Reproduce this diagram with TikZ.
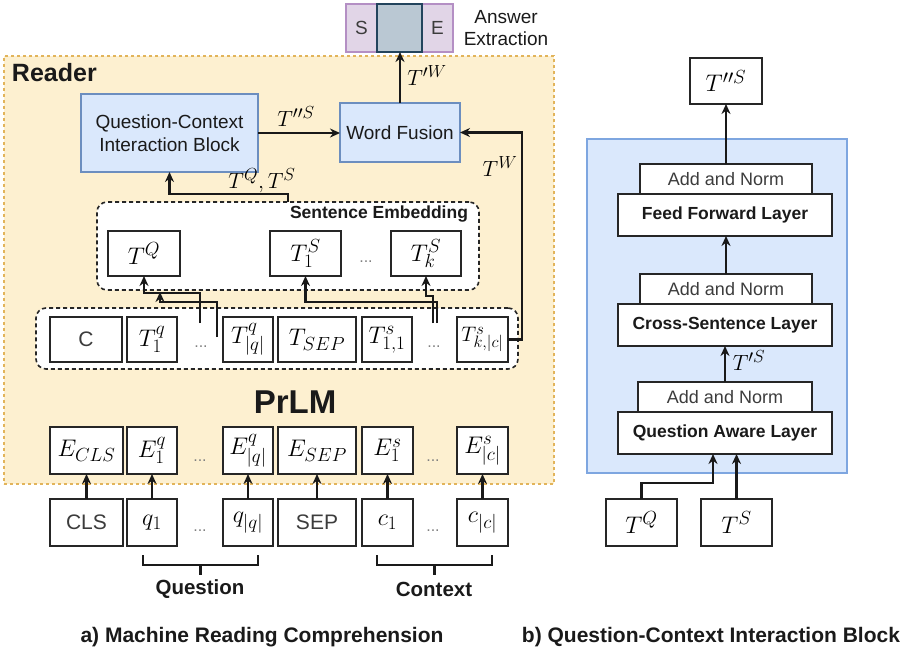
\RequirePackage{fix-cm}
\documentclass[tikz,border=0pt]{standalone}
\usepackage[no-math]{fontspec}
\setmainfont{Liberation Sans}
\usetikzlibrary{arrows.meta}

% larger scripts for the symbol boxes and labels
\DeclareMathSizes{24}{24}{19}{15}
\DeclareMathSizes{22}{22}{17.5}{14}
\DeclareMathSizes{21}{21}{16.5}{13}

\definecolor{readerfill}{HTML}{FDF0D0}
\definecolor{readerline}{HTML}{E2B45A}
\definecolor{bluefill}{HTML}{DAE8FC}
\definecolor{blueline}{HTML}{6C8EBF}
\definecolor{panelline}{HTML}{7EA6E0}
\definecolor{purplefill}{HTML}{E1D5E7}
\definecolor{purpleline}{HTML}{B48FC4}
\definecolor{spanfill}{HTML}{BAC8D3}
\definecolor{spanline}{HTML}{23445D}
\definecolor{ink}{HTML}{1A1A1A}
\definecolor{soft}{HTML}{3C3C3C}

% font size in points, baselineskip 1.2 times
\newcommand{\setpx}[1]{\fontsize{#1}{1.2\dimexpr#1pt\relax}\selectfont}
% box from its corners: style, name, x1, y1, x2, y2, text
\newcommand{\boxnode}[7]{\node[#1, minimum width={(#5)-(#3)}, minimum height={(#6)-(#4)}] (#2) at ({((#3)+(#5))/2},{((#4)+(#6))/2}) {#7};}

\begin{document}
\begin{tikzpicture}[x=1pt, y=-1pt,
  every node/.style={inner sep=0pt, outer sep=0pt},
  tok/.style={draw=black!85, line width=1.8pt, fill=white, font=\setpx{24}},
  word/.style={tok, font=\setpx{21}, text=soft},
  blk/.style={draw=blueline, fill=bluefill, line width=1.6pt, font=\setpx{19}, text=ink, align=center},
  layer/.style={draw=black!85, fill=white, line width=1.8pt, font=\bfseries\setpx{17.5}, text=ink},
  norm/.style={draw=black!85, fill=white, line width=1.8pt, font=\setpx{18}, text=soft},
  group/.style={draw=black!85, dash pattern=on 4pt off 3pt, line width=1.6pt, fill=white, rounded corners=10pt},
  ans/.style={draw=purpleline, fill=purplefill, line width=1.6pt, font=\setpx{19}, text=soft},
  flow/.style={line width=2.1pt, draw=black!90, -{Stealth[length=10pt,width=9pt]}},
  lbl/.style={font=\setpx{22}},
  dotsep/.style={font=\setpx{16}, text=gray, anchor=base},
  title/.style={font=\bfseries\setpx{21}, text=ink}
]
\useasboundingbox (0,0) rectangle (909,649);

% ---------- a) reader ----------
\boxnode{draw=readerline, fill=readerfill, dash pattern=on 3pt off 3pt, line width=1.3pt}{reader}{4}{56}{554}{484}{}
\node[anchor=west, font=\bfseries\setpx{25}, text=ink] (readerlbl) at (12,73) {Reader};

% answer span
\boxnode{ans}{sbox}{346}{4}{377}{52}{S}
\boxnode{ans}{ebox}{422}{4}{453}{52}{E}
\boxnode{draw=spanline, fill=spanfill, line width=1.6pt}{span}{377}{4}{422}{52}{}
\node[align=center, font=\setpx{19}, text=ink] (anstxt) at (506,28) {Answer\\Extraction};

% interaction and fusion blocks
\boxnode{blk}{qcib}{81}{94}{258}{172}{Question-Context\\Interaction Block}
\boxnode{blk}{wf}{340}{103}{460}{162}{Word Fusion}

% sentence embeddings
\boxnode{group}{sent}{97}{202}{479}{290}{}
\node[anchor=east, font=\bfseries\setpx{17.5}, text=ink] (sentlbl) at (468,214) {Sentence Embedding};
\boxnode{tok}{tq}{108}{231}{180}{276}{$T^Q$}
\boxnode{tok}{ts1}{270}{231}{341}{276}{$T^S_1$}
\boxnode{tok}{tsk}{391}{231}{461}{276}{$T^S_k$}
\node[dotsep] (sdots) at (366,262) {...};

% token representations
\boxnode{group}{tokens}{36}{308}{518}{369}{}
\boxnode{word}{tc}{50}{317}{122}{362}{C}
\boxnode{tok}{tq1}{127}{317}{177}{362}{$T^q_1$}
\boxnode{tok}{tqn}{223}{317}{273}{362}{$T^q_{|q|}$}
\boxnode{tok}{tsep}{278}{317}{356}{362}{$T_{SEP}$}
\boxnode{tok}{ts11}{362}{317}{412}{362}{$T^s_{1,1}$}
\boxnode{tok, font=\setpx{21}}{tskc}{457}{317}{508}{362}{$T^s_{k,|c|}$}
\node[dotsep] (tdots1) at (201,347) {...};
\node[dotsep] (tdots2) at (434,347) {...};

\node[font=\bfseries\setpx{33}, text=ink] (prlm) at (295,402) {PrLM};

% input embeddings
\boxnode{tok}{ecls}{50}{427}{123}{474}{$E_{CLS}$}
\boxnode{tok}{eq1}{127}{427}{177}{474}{$E^q_1$}
\boxnode{tok}{eqn}{223}{427}{273}{474}{$E^q_{|q|}$}
\boxnode{tok}{esep}{278}{427}{356}{474}{$E_{SEP}$}
\boxnode{tok}{ec1}{362}{427}{413}{474}{$E^s_1$}
\boxnode{tok}{ecn}{457}{427}{508}{474}{$E^s_{|c|}$}
\node[dotsep] (edots1) at (200,461) {...};
\node[dotsep] (edots2) at (433,461) {...};

% input tokens
\boxnode{word}{cls}{50}{499}{123}{546}{CLS}
\boxnode{tok}{q1}{127}{499}{177}{546}{$q_1$}
\boxnode{tok}{qn}{223}{499}{273}{546}{$q_{|q|}$}
\boxnode{word}{sep}{278}{499}{356}{546}{SEP}
\boxnode{tok}{c1}{362}{499}{413}{546}{$c_1$}
\boxnode{tok}{cn}{457}{499}{508}{546}{$c_{|c|}$}
\node[dotsep] (bdots1) at (200,531) {...};
\node[dotsep] (bdots2) at (433,531) {...};

\foreach \lo/\hi in {cls/ecls, q1/eq1, qn/eqn, sep/esep, c1/ec1, cn/ecn}
  \draw[flow] (\lo.north) -- (\hi.south);

% brackets under the inputs
\draw[line width=2.3pt, ink] (143,555) -- (143,565) -- (258,565) -- (258,555) (200.5,565) -- (200.5,575);
\draw[line width=2.3pt, ink] (377,555) -- (377,565) -- (492,565) -- (492,555) (434.5,565) -- (434.5,575);
\node[title, font=\bfseries\setpx{20.5}] (qlbl) at (200,589) {Question};
\node[title, font=\bfseries\setpx{20.5}] (clbl) at (434,589) {Context};

% pooling of tokens into sentence embeddings
\coordinate (qa) at (200,323);
\coordinate (qb) at (217,337);
\coordinate (qbend) at (160,292);
\coordinate (sa) at (437,323);
\coordinate (sb) at (433,323);
\draw[flow] (qa) -- ++(0,-30) -| (tq.south);
\draw[flow] (qb) -- ++(0,-35) -| (qbend);
\draw[flow] (sa) -- ++(0,-21) -| (ts1.south);
\draw[flow] (sb) -- ++(0,-27) -| (tsk.south);

% reader data flow
\draw[flow] (sent.north) -- ++(0,-8) -| (qcib.south);
\node[lbl] (tqts) at (262,181) {$T^Q,T^S$};
\draw[flow] (qcib.east) -- (qcib.east -| wf.west);
\node[lbl] (tpps) at (296,117) {$T^{\prime\prime S}$};
\draw[flow] (tskc.east) -- ++(14,0) |- (wf.east);
\node[lbl] (tw) at (500,167) {$T^W$};
\draw[flow] (wf.north) -- (wf.north |- span.south);
\node[lbl] (tpw) at (427,76) {$T^{\prime W}$};

% ---------- b) interaction block ----------
\boxnode{draw=panelline, fill=bluefill, line width=1.6pt}{panel}{587}{139}{847}{473}{}
\boxnode{norm}{an3}{640}{164}{812}{194}{Add and Norm}
\boxnode{layer}{ffl}{618}{194}{832}{236}{Feed Forward Layer}
\boxnode{norm}{an2}{640}{274}{812}{304}{Add and Norm}
\boxnode{layer}{csl}{618}{304}{832}{346}{Cross-Sentence Layer}
\boxnode{norm}{an1}{638}{382}{812}{412}{Add and Norm}
\boxnode{layer}{qal}{618}{412}{832}{454}{Question Aware Layer}
\boxnode{tok}{tpp}{690}{58}{762}{104}{$T^{\prime\prime S}$}
\boxnode{tok}{rq}{606}{499}{677}{546}{$T^Q$}
\boxnode{tok}{rs}{701}{499}{772}{546}{$T^S$}

\draw[flow] (an3.north) -- (tpp.south);
\draw[flow] (an2.north) -- (an2.north |- ffl.south);
\draw[flow] (an1.north) -- (an1.north |- csl.south);
\node[lbl] (tps) at (749,361) {$T^{\prime S}$};
\draw[flow] (rq.north) -- ++(0,-16) -| ([xshift=-12pt]qal.south);
\draw[flow] (rs.north) -- (rs.north |- qal.south);

% captions
\node[title] (capa) at (262,637) {a) Machine Reading Comprehension};
\node[title] (capb) at (711,637) {b) Question-Context Interaction Block};
\end{tikzpicture}
\end{document}
